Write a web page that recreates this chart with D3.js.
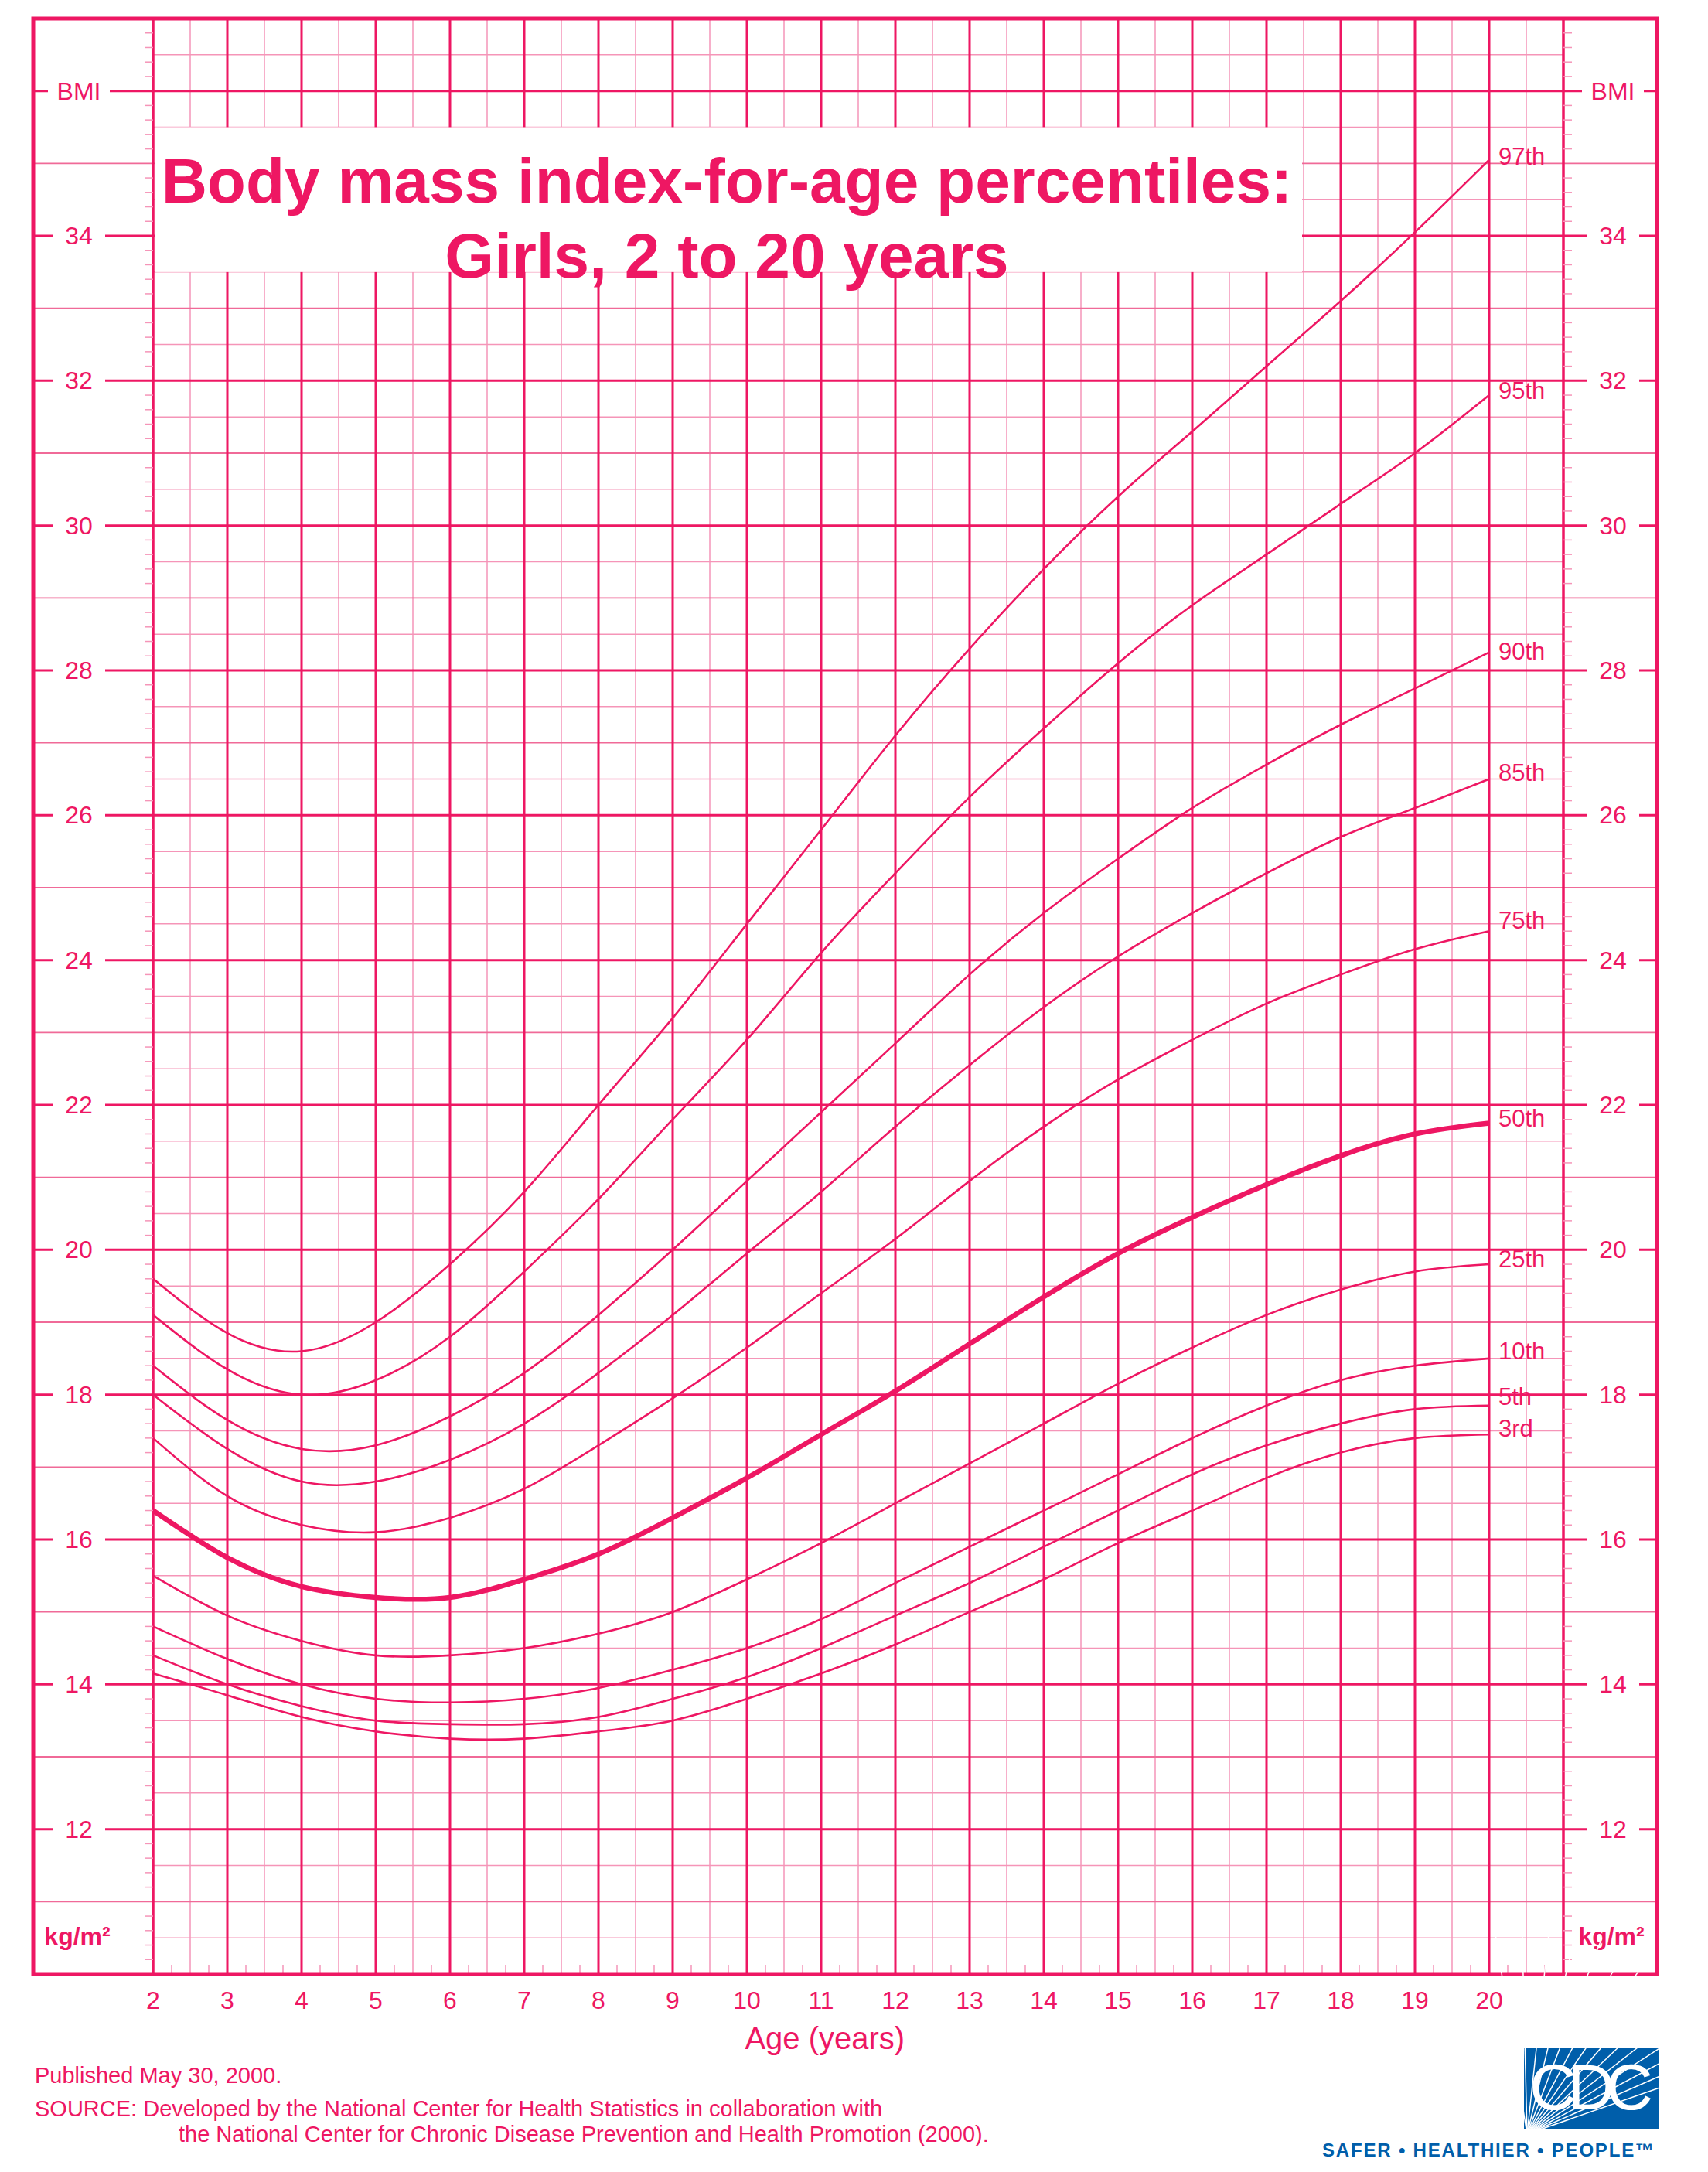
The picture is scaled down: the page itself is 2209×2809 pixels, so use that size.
<!DOCTYPE html>
<html>
<head>
<meta charset="utf-8">
<script src="https://cdn.jsdelivr.net/npm/d3@7"></script>
<style>
  body { margin: 0; background: #fff; }
  text { font-family: "Liberation Sans", Arial, sans-serif; fill: #EE1763; }
</style>
</head>
<body>
<svg width="2209" height="2809"></svg>
<script>
// ages 2..20
const ages = d3.range(2, 21);
const percentiles = ["97th", "95th", "90th", "85th", "75th", "50th", "25th", "10th", "5th", "3rd"];
const p97 = [19.6, 18.85, 18.6, 19.0, 19.8, 20.8, 22.0, 23.2, 24.5, 25.8, 27.1, 28.3, 29.4, 30.4, 31.3, 32.2, 33.1, 34.05, 35.05];
const p95 = [19.1, 18.35, 18.0, 18.2, 18.8, 19.7, 20.7, 21.8, 22.9, 24.1, 25.2, 26.25, 27.2, 28.1, 28.9, 29.6, 30.3, 31.0, 31.8];
const p90 = [18.4, 17.65, 17.25, 17.3, 17.7, 18.3, 19.1, 20.0, 20.95, 21.9, 22.85, 23.8, 24.65, 25.4, 26.1, 26.7, 27.25, 27.75, 28.25];
const p85 = [18.0, 17.25, 16.8, 16.8, 17.1, 17.6, 18.3, 19.1, 19.95, 20.8, 21.7, 22.55, 23.35, 24.05, 24.65, 25.2, 25.7, 26.1, 26.5];
const p75 = [17.4, 16.6, 16.2, 16.1, 16.3, 16.7, 17.3, 17.95, 18.65, 19.4, 20.15, 20.95, 21.7, 22.35, 22.9, 23.4, 23.8, 24.15, 24.4];
const p50 = [16.4, 15.75, 15.35, 15.2, 15.2, 15.45, 15.8, 16.3, 16.85, 17.45, 18.05, 18.7, 19.35, 19.95, 20.45, 20.9, 21.3, 21.6, 21.75];
const p25 = [15.5, 14.95, 14.6, 14.4, 14.4, 14.5, 14.7, 15.0, 15.45, 15.95, 16.5, 17.05, 17.6, 18.15, 18.65, 19.1, 19.45, 19.7, 19.8];
const p10 = [14.8, 14.35, 14.0, 13.8, 13.75, 13.8, 13.95, 14.2, 14.5, 14.9, 15.4, 15.9, 16.4, 16.9, 17.4, 17.85, 18.2, 18.4, 18.5];
const p5  = [14.4, 14.0, 13.7, 13.5, 13.45, 13.45, 13.55, 13.8, 14.1, 14.5, 14.95, 15.4, 15.9, 16.4, 16.9, 17.3, 17.6, 17.8, 17.85];
const p3  = [14.15, 13.85, 13.55, 13.35, 13.25, 13.25, 13.35, 13.5, 13.8, 14.15, 14.55, 15.0, 15.45, 15.95, 16.4, 16.85, 17.2, 17.4, 17.45];
const seriesValues = [p97, p95, p90, p85, p75, p50, p25, p10, p5, p3];
// where each percentile label sits (BMI)
const labelBmi = [35.1, 31.87, 28.27, 26.59, 24.55, 21.82, 19.88, 18.6, 17.98, 17.54];
const xTickLabels = d3.range(2, 21);
const yTickLabels = d3.range(12, 35, 2);

const pink = "#EE1763";
const pale = "#F595B8";
const svg = d3.select("svg");

const x = d3.scaleLinear().domain([2, 21]).range([198, 2022]);
const y = d3.scaleLinear().domain([10, 37]).range([2553, 24]);
const left = 43, right = 2143;

const grid = svg.append("g");
// vertical half-year lines
d3.range(2.5, 21, 1).forEach(a => {
  grid.append("line").attr("x1", x(a)).attr("x2", x(a)).attr("y1", y(37)).attr("y2", y(10))
    .attr("stroke", pale).attr("stroke-width", 1.5);
});
// horizontal half lines
d3.range(10.5, 37, 1).forEach(b => {
  grid.append("line").attr("x1", x(2)).attr("x2", x(21)).attr("y1", y(b)).attr("y2", y(b))
    .attr("stroke", pale).attr("stroke-width", 1.5);
});
// odd integer lines across the whole frame
d3.range(11, 37, 2).forEach(b => {
  grid.append("line").attr("x1", left).attr("x2", right).attr("y1", y(b)).attr("y2", y(b))
    .attr("stroke", "#F06A98").attr("stroke-width", 1.8);
});
// even integer lines
d3.range(12, 37, 2).forEach(b => {
  grid.append("line").attr("x1", x(2)).attr("x2", x(21)).attr("y1", y(b)).attr("y2", y(b))
    .attr("stroke", pink).attr("stroke-width", 3);
  [[left, 88], [x(2) - 62, x(2)], [x(21), x(21) + 62], [right - 45, right]].forEach(s => {
    grid.append("line").attr("x1", s[0]).attr("x2", s[1]).attr("y1", y(b)).attr("y2", y(b))
      .attr("stroke", pink).attr("stroke-width", 3);
  });
});
// year lines
d3.range(2, 22).forEach(a => {
  grid.append("line").attr("x1", x(a)).attr("x2", x(a)).attr("y1", y(37)).attr("y2", y(10))
    .attr("stroke", pink).attr("stroke-width", a === 2 || a === 21 ? 3.5 : 3);
});
// small ticks every 0.2 BMI on both margins
d3.range(10.2, 37, 0.2).forEach(b => {
  if (Math.abs(b - Math.round(b * 2) / 2) < 0.01) return;
  grid.append("line").attr("x1", x(2) - 11).attr("x2", x(2)).attr("y1", y(b)).attr("y2", y(b))
    .attr("stroke", pale).attr("stroke-width", 1.5);
  grid.append("line").attr("x1", x(21)).attr("x2", x(21) + 11).attr("y1", y(b)).attr("y2", y(b))
    .attr("stroke", pale).attr("stroke-width", 1.5);
});
// quarter-year ticks at bottom
d3.range(2.25, 21, 0.5).forEach(a => {
  grid.append("line").attr("x1", x(a)).attr("x2", x(a)).attr("y1", y(10) - 12).attr("y2", y(10))
    .attr("stroke", pale).attr("stroke-width", 1.5);
});
// frame
svg.append("rect").attr("x", left).attr("y", y(37)).attr("width", right - left).attr("height", y(10) - y(37))
  .attr("fill", "none").attr("stroke", pink).attr("stroke-width", 5);

// title box
svg.append("rect").attr("x", x(2) + 2).attr("y", y(35.5)).attr("width", x(17.5) - x(2) - 4).attr("height", y(33.5) - y(35.5))
  .attr("fill", "#fff");
svg.append("text").attr("x", 940).attr("y", 262).attr("text-anchor", "middle")
  .attr("font-size", 82).attr("font-weight", "bold").text("Body mass index-for-age percentiles:");
svg.append("text").attr("x", 940).attr("y", 359).attr("text-anchor", "middle")
  .attr("font-size", 82).attr("font-weight", "bold").text("Girls, 2 to 20 years");

// y labels
[x(2) - 96, x(21) + 64].forEach(cx => {
  yTickLabels.forEach(b => {
    svg.append("rect").attr("x", cx - 34).attr("y", y(b) - 20).attr("width", 68).attr("height", 40).attr("fill", "#fff");
    svg.append("text").attr("x", cx).attr("y", y(b) + 11).attr("text-anchor", "middle").attr("font-size", 32).text(b);
  });
  svg.append("rect").attr("x", cx - 40).attr("y", y(36) - 20).attr("width", 80).attr("height", 40).attr("fill", "#fff");
  svg.append("text").attr("x", cx).attr("y", y(36) + 11).attr("text-anchor", "middle").attr("font-size", 32).text("BMI");
  svg.append("text").attr("x", cx - 2).attr("y", 2515).attr("text-anchor", "middle").attr("font-size", 32)
    .attr("font-weight", "bold").text("kg/m²");
});

// x labels
xTickLabels.forEach(a => {
  svg.append("text").attr("x", x(a)).attr("y", 2598).attr("text-anchor", "middle").attr("font-size", 32).text(a);
});
svg.append("text").attr("x", x(11.05)).attr("y", 2650).attr("text-anchor", "middle").attr("font-size", 40).text("Age (years)");

// curves
const line = d3.line().x((d, i) => x(ages[i])).y(d => y(d)).curve(d3.curveNatural);
seriesValues.forEach((vals, i) => {
  svg.append("path").attr("d", line(vals)).attr("fill", "none").attr("stroke", pink)
    .attr("stroke-width", percentiles[i] === "50th" ? 6.5 : 2.6);
  svg.append("text").attr("x", x(20) + 12).attr("y", y(labelBmi[i]) + 11).attr("font-size", 31).text(percentiles[i]);
});

// footer
svg.append("text").attr("x", 45).attr("y", 2694).attr("font-size", 29).text("Published May 30, 2000.");
svg.append("text").attr("x", 45).attr("y", 2737).attr("font-size", 29)
  .text("SOURCE: Developed by the National Center for Health Statistics in collaboration with");
svg.append("text").attr("x", 231).attr("y", 2770).attr("font-size", 29)
  .text("the National Center for Chronic Disease Prevention and Health Promotion (2000).");

// CDC logo
const logo = svg.append("g");
logo.append("rect").attr("x", 1971).attr("y", 2648).attr("width", 174).attr("height", 106).attr("fill", "#005EAA");
d3.range(0, 14).forEach(k => {
  const ang = Math.PI * (0.55 - k * 0.03);
  logo.append("line").attr("x1", 1975).attr("y1", 2760).attr("x2", 1975 + 260 * Math.cos(ang) + k * 10)
    .attr("y2", 2760 - 260 * Math.sin(ang)).attr("stroke", "#fff").attr("stroke-width", 1.5);
});
logo.append("rect").attr("x", 1971).attr("y", 2648).attr("width", 174).attr("height", 106)
  .attr("fill", "none").attr("stroke", "#fff").attr("stroke-width", 0);
logo.append("text").attr("x", 2058).attr("y", 2728).attr("text-anchor", "middle").attr("font-size", 84)
  .attr("font-family", "Liberation Serif, serif").style("fill", "#fff")
  .attr("textLength", 160).text("CDC");
logo.append("text").attr("x", 1710).attr("y", 2789).attr("font-size", 24).attr("font-weight", "bold")
  .attr("letter-spacing", 3).style("fill", "#005EAA").attr("textLength", 432).text("SAFER • HEALTHIER • PEOPLE™");
</script>
</body>
</html>
